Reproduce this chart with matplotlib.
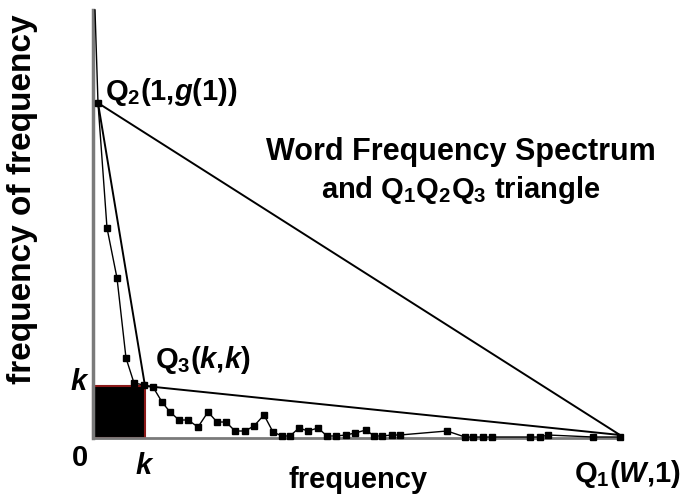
import matplotlib.pyplot as plt
from matplotlib.patches import Rectangle

plt.rcParams['font.family'] = ['Liberation Sans', 'DejaVu Sans']
plt.rcParams['mathtext.fontset'] = 'custom'
plt.rcParams['mathtext.rm'] = 'Liberation Sans:bold'
plt.rcParams['mathtext.it'] = 'Liberation Sans:bold:italic'
plt.rcParams['mathtext.bf'] = 'Liberation Sans:bold'

# word frequency spectrum (arbitrary units)
freq = [2, 5, 14, 24, 33, 41, 51, 60, 69, 77, 86, 95, 105, 115, 124, 133, 142, 152,
        161, 171, 180, 189, 197, 206, 215, 225, 234, 243, 253, 262, 273, 281, 289,
        299, 307, 354, 372, 380, 390, 399, 437, 447, 455, 500, 527]
freq_of_freq = [428, 335, 210, 160, 80, 55, 53, 51, 36, 26, 18, 18, 11, 26, 16, 16, 7, 7,
                12, 23, 6, 2, 2, 10, 7, 10, 2, 2, 3, 5, 8, 2, 2,
                3, 3, 7, 1, 1, 1, 1, 1, 1, 3, 1, 1]

# triangle corners
Q1 = (527, 3)
Q2 = (5, 335)
Q3 = (52, 52)
k = 52

fig = plt.figure(figsize=(6.85, 4.97), dpi=100)
ax = fig.add_axes([0, 0, 1, 1])
ax.set_xlim(-93, 592)
ax.set_ylim(-59, 438)

for s in ['top', 'right']:
    ax.spines[s].set_visible(False)
ax.spines['left'].set_position(('data', 0))
ax.spines['bottom'].set_position(('data', 0))
ax.spines['left'].set_bounds(0, 428)
ax.spines['bottom'].set_bounds(0, 527)
ax.spines['left'].set_color('#7a7a7a')
ax.spines['left'].set_linewidth(2.5)
ax.spines['bottom'].set_color('#7a7a7a')
ax.spines['bottom'].set_linewidth(2)
ax.set_xticks([])
ax.set_yticks([])

# k x k square
ax.add_patch(Rectangle((0, 0), k, k, facecolor='black', edgecolor='#8b1a1a', lw=1.5, zorder=2))

# spectrum
ax.plot(freq, freq_of_freq, color='black', lw=1, zorder=3)
ax.plot(freq[1:], freq_of_freq[1:], ls='none', marker='s', ms=5, color='black', zorder=4)

# triangle
tri_x = [Q1[0], Q2[0], Q3[0], Q1[0]]
tri_y = [Q1[1], Q2[1], Q3[1], Q1[1]]
ax.plot(tri_x, tri_y, color='black', lw=1.4, zorder=3)

# labels
ax.text(-71, 239, 'frequency of frequency', rotation=90, ha='center', va='center',
        fontsize=24, fontweight='bold')
ax.text(265, -42, 'frequency', ha='center', va='center', fontsize=21, fontweight='bold')
ax.text(-13, -20, '0', ha='center', va='center', fontsize=21, fontweight='bold')
ax.text(-13, 56, '$k$', ha='center', va='center', fontsize=21)
ax.text(k, -28, '$k$', ha='center', va='center', fontsize=21)
ax.text(12, 346, r'$\mathrm{Q}_2(1{,}g(1))$', ha='left', va='center', fontsize=21)
ax.text(62, 78, r'$\mathrm{Q}_3(k{,}k)$', ha='left', va='center', fontsize=21)
ax.text(534, -36, r'$\mathrm{Q}_1(W{,}1)$', ha='center', va='center', fontsize=21)
ax.text(368, 286, 'Word Frequency Spectrum', ha='center', va='center',
        fontsize=22, fontweight='bold')
ax.text(368, 248, r'and $\mathrm{Q_1Q_2Q_3}$ triangle', ha='center', va='center',
        fontsize=21, fontweight='bold')

fig.savefig('out.png', dpi=100)
